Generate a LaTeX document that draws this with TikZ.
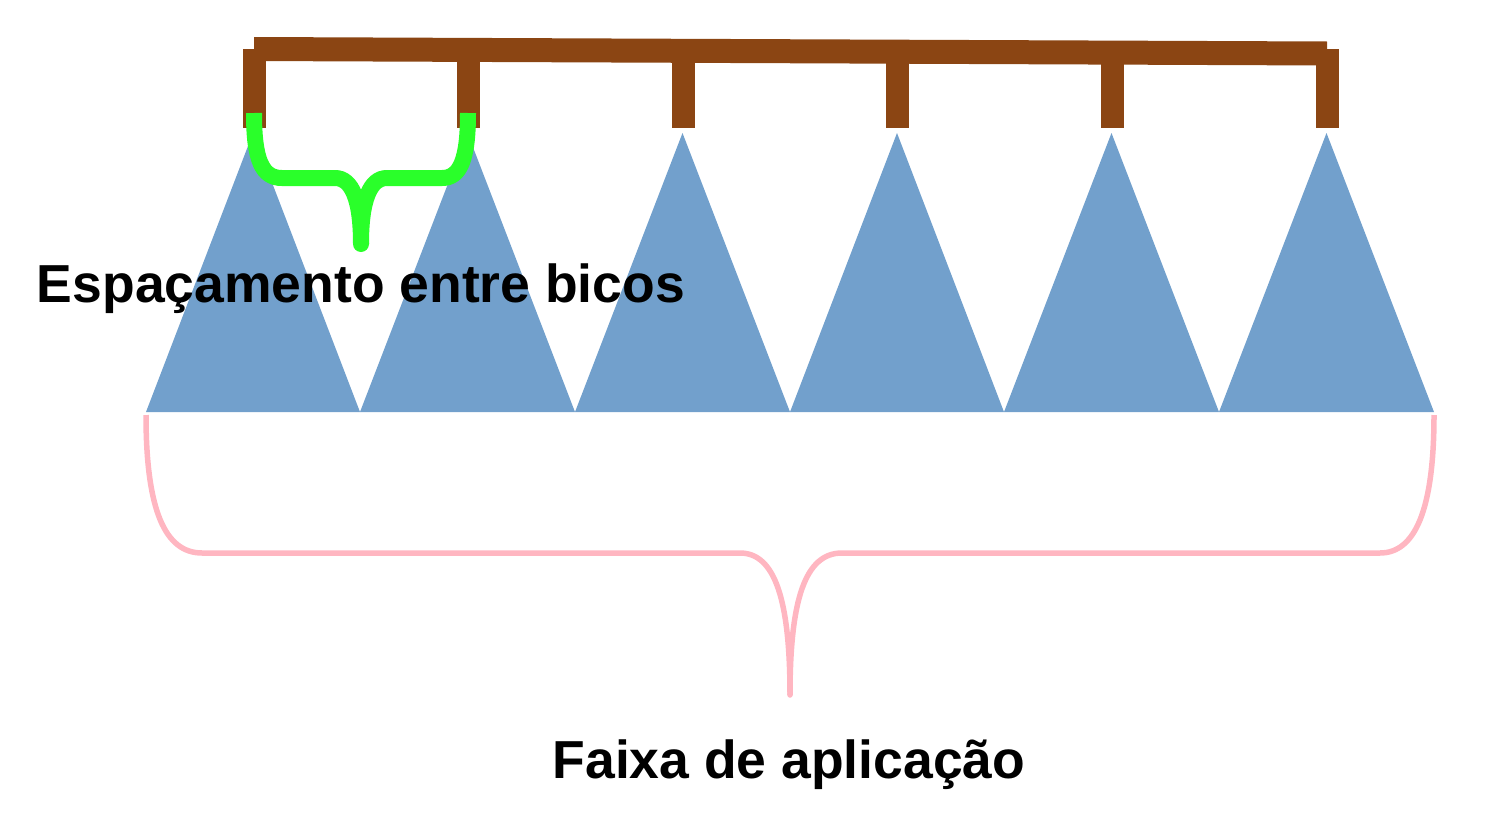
\documentclass[tikz,border=0pt]{standalone}
\usepackage{fontspec}
\setmainfont{Liberation Sans}
\definecolor{nozzlebrown}{RGB}{139,69,19}
\definecolor{spraybl}{RGB}{114,160,204}
\definecolor{bracegreen}{RGB}{42,255,42}
\definecolor{bracepink}{RGB}{255,182,193}
\begin{document}
\begin{tikzpicture}[x=1pt,y=-1pt,
  spray/.style={fill=spraybl,draw=none},
  stem/.style={draw=nozzlebrown,line width=23pt},
  gbrace/.style={draw=bracegreen,line width=16pt},
  pbrace/.style={draw=bracepink,line width=5.5pt},
  lbl/.style={font=\fontsize{53.5}{60}\selectfont\bfseries,text=black,anchor=base,inner sep=0pt}]
\useasboundingbox (0,0) rectangle (1492,814);
% spray triangles
\foreach \a/\b in {146/360,360/575,575/790,790/1004,1004/1219,1219/1434}{
  \fill[spray] (\a,412) -- ({(\a+\b)/2},133) -- (\b,412) -- cycle;
}
% boom
\draw[draw=nozzlebrown,line width=24pt] (254,49) -- (1327,53.5);
\foreach \x in {254,468,683,897,1112,1327}{
  \draw[stem] (\x,49) -- (\x,128);
}
% green brace
\draw[gbrace] (254,113) .. controls (254,160) and (262,178) .. (282,178) -- (335,178)
  .. controls (352,178) and (361,200) .. (361,244);
\draw[gbrace] (468,113) .. controls (468,160) and (460,178) .. (442,178) -- (387,178)
  .. controls (370,178) and (361,200) .. (361,244);
\fill[bracegreen] (361,244) circle (8);
% pink brace
\draw[pbrace] (146,415) .. controls (146,510) and (165,553) .. (202,553) -- (740,553)
  .. controls (775,553) and (790,600) .. (790,695);
\draw[pbrace] (1434,415) .. controls (1434,510) and (1415,553) .. (1380,553) -- (842,553)
  .. controls (805,553) and (790,600) .. (790,695);
\fill[bracepink] (790,695) circle (2.75);
% labels
\node[lbl] (esp) at (361,302) {Espaçamento entre bicos};
\node[lbl] (faixa) at (789,778) {Faixa de aplicação};
\end{tikzpicture}
\end{document}
